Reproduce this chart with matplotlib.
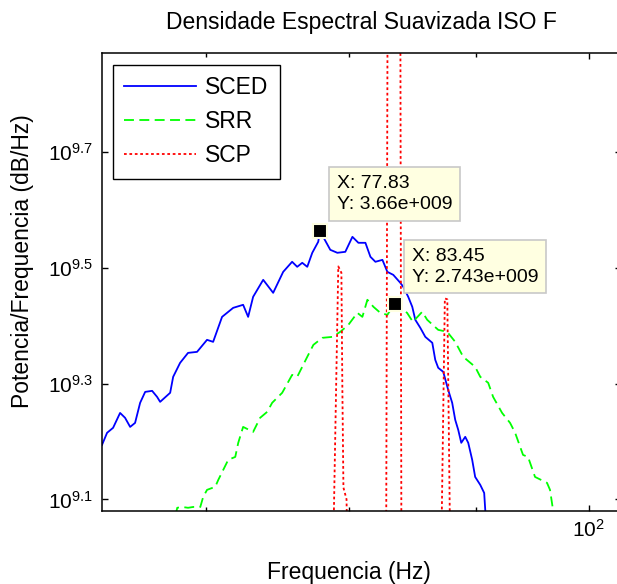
import matplotlib
matplotlib.use("Agg")
import matplotlib.pyplot as plt
from matplotlib.ticker import FixedLocator, NullFormatter

plt.rcParams["font.family"] = ["Liberation Sans", "DejaVu Sans"]
plt.rcParams["mathtext.fontset"] = "custom"
plt.rcParams["mathtext.rm"] = "Liberation Sans"

# SCED: smoothed spectral density (Hz, power in units of 1e9)
sced_freq = [63.50, 63.80, 64.16, 64.58, 64.88, 65.19, 65.49, 65.80, 66.11, 66.54,
             66.85, 67.04, 67.67, 67.86, 68.30, 68.81, 69.39, 70.04, 70.44, 71.03,
             71.77, 72.44, 72.78, 73.12, 73.81, 74.50, 75.20, 75.83, 76.19, 76.55,
             76.91, 77.27, 77.70, 77.83, 78.58, 79.10, 79.69, 80.22, 80.67, 81.20,
             81.58, 81.96, 82.50, 82.88, 83.34, 83.89, 84.12, 84.51, 84.83, 85.07,
             85.47, 85.87, 86.43, 86.67, 86.91, 87.32, 87.72, 88.05, 88.30, 88.55,
             88.80, 89.13, 89.38, 89.71, 89.96, 90.39, 90.72, 90.81, 90.90]
sced_power = [1.564, 1.641, 1.674, 1.776, 1.742, 1.680, 1.707, 1.849, 1.931, 1.939,
              1.893, 1.856, 1.924, 2.050, 2.167, 2.255, 2.264, 2.375, 2.356, 2.602,
              2.697, 2.730, 2.602, 2.818, 3.015, 2.863, 3.112, 3.239, 3.175, 3.226,
              3.175, 3.357, 3.507, 3.660, 3.397, 3.357, 3.370, 3.577, 3.493, 3.493,
              3.304, 3.239, 3.264, 3.112, 3.075, 2.979, 2.932, 2.818, 2.708, 2.572,
              2.491, 2.403, 2.347, 2.193, 2.125, 2.091, 1.947, 1.849, 1.728, 1.660,
              1.577, 1.615, 1.577, 1.474, 1.377, 1.334, 1.292, 1.208, 1.150]

# SRR
srr_freq = [68.00, 68.12, 68.43, 68.81, 69.14, 69.60, 69.79, 70.04, 70.58, 70.78,
            71.44, 71.91, 72.11, 72.44, 73.12, 73.60, 74.09, 74.43, 75.13, 75.83,
            76.19, 76.91, 77.35, 78.00, 78.73, 79.32, 79.92, 80.59, 80.97, 81.35,
            81.81, 82.34, 82.88, 83.45, 84.42, 84.88, 85.62, 86.02, 86.91, 87.64,
            88.30, 88.96, 89.96, 90.39, 91.06, 91.48, 92.25, 92.94, 93.38, 94.07,
            94.51, 95.13, 96.20, 96.47, 96.74, 96.85]
srr_power = [1.180, 1.218, 1.222, 1.218, 1.222, 1.222, 1.272, 1.308, 1.324, 1.361,
             1.474, 1.491, 1.577, 1.680, 1.647, 1.742, 1.784, 1.849, 1.924, 2.066,
             2.050, 2.220, 2.328, 2.394, 2.403, 2.452, 2.521, 2.644, 2.602, 2.785,
             2.708, 2.644, 2.623, 2.743, 2.644, 2.551, 2.655, 2.572, 2.471, 2.452,
             2.356, 2.220, 2.133, 2.050, 2.002, 1.893, 1.776, 1.707, 1.641, 1.503,
             1.491, 1.377, 1.345, 1.308, 1.208, 1.150]

# SCP: narrow peaks, the rest lies below the visible range
scp_freq = [63.0, 78.75, 79.17, 79.40, 79.47, 79.55, 79.78, 79.90, 82.78, 82.95,
            83.85, 83.98, 87.12, 87.45, 87.65, 87.92, 103.5]
scp_power = [0.5, 0.9, 3.18, 3.10, 1.97, 1.32, 1.26, 0.9, 0.9, 25.0,
             25.0, 0.9, 0.9, 2.80, 2.79, 0.9, 0.5]

# data tips
tip_freq = [77.83, 83.45]
tip_power = [3.66, 2.743]
tip_labels = ["X: 77.83\nY: 3.66e+009", "X: 83.45\nY: 2.743e+009"]

y_ticks = [9.1, 9.3, 9.5, 9.7]


def scaled(values):
    return [v * 1e9 for v in values]


fig = plt.figure(figsize=(6.17, 5.84), dpi=100)
ax = fig.add_axes([0.1648, 0.125, 0.8417, 0.7851])

ax.plot(sced_freq, scaled(sced_power), color=(0, 0, 1), lw=1.3, label="SCED")
ax.plot(srr_freq, scaled(srr_power), color=(0, 1, 0), lw=1.3,
        linestyle=(0, (5.5, 3)), label="SRR")
ax.plot(scp_freq, scaled(scp_power), color=(1, 0, 0), lw=1.3,
        linestyle=(0, (1.5, 1.5)), label="SCP")

ax.set_xscale("log")
ax.set_yscale("log")
ax.set_xlim(63.48, 103.08)
ax.set_ylim(10 ** 9.0801, 10 ** 9.8718)

ax.xaxis.set_major_locator(FixedLocator([100]))
ax.xaxis.set_minor_locator(FixedLocator([70, 80, 90]))
ax.set_xticklabels([r"$\mathregular{10^{2}}$"])
ax.xaxis.set_minor_formatter(NullFormatter())
ax.yaxis.set_major_locator(FixedLocator([10 ** t for t in y_ticks]))
ax.yaxis.set_minor_locator(FixedLocator([]))
ax.set_yticklabels([r"$\mathregular{10^{%g}}$" % t for t in y_ticks])

ax.tick_params(which="both", direction="in", top=True, right=True,
               labelsize=15, width=1.0)
ax.tick_params(which="major", length=4, pad=6)
ax.tick_params(which="minor", length=3)
for s in ax.spines.values():
    s.set_linewidth(1.1)

ax.set_title("Densidade Espectral Suavizada ISO F", fontsize=16.5, pad=17)
ax.set_xlabel("Frequencia (Hz)", fontsize=16.5)
ax.set_ylabel("Potencia/Frequencia (dB/Hz)", fontsize=16.5)
ax.xaxis.set_label_coords(0.4755, -0.11)
ax.yaxis.set_label_coords(-0.131, 0.545)

leg = ax.legend(loc="upper left", bbox_to_anchor=(0.0218, 0.9727),
                borderaxespad=0, fontsize=16.5, fancybox=False, framealpha=1,
                edgecolor="black", handlelength=3.1, handletextpad=0.4,
                borderpad=0.5, labelspacing=0.48)
leg.get_frame().set_linewidth(1.0)

for f, p, txt in zip(tip_freq, tip_power, tip_labels):
    ax.annotate(txt, xy=(f, p * 1e9), xytext=(17, 18),
                textcoords="offset pixels", ha="left", va="bottom",
                fontsize=14, linespacing=1.3, zorder=5,
                bbox=dict(boxstyle="square,pad=0.4", fc="#ffffe1",
                          ec="#c8c8c8", lw=1.2))
ax.plot(tip_freq, scaled(tip_power), linestyle="none", marker="s", ms=10,
        mfc="black", mec="#ffffe1", mew=1.5, zorder=6)

fig.savefig("out.png", dpi=100)
